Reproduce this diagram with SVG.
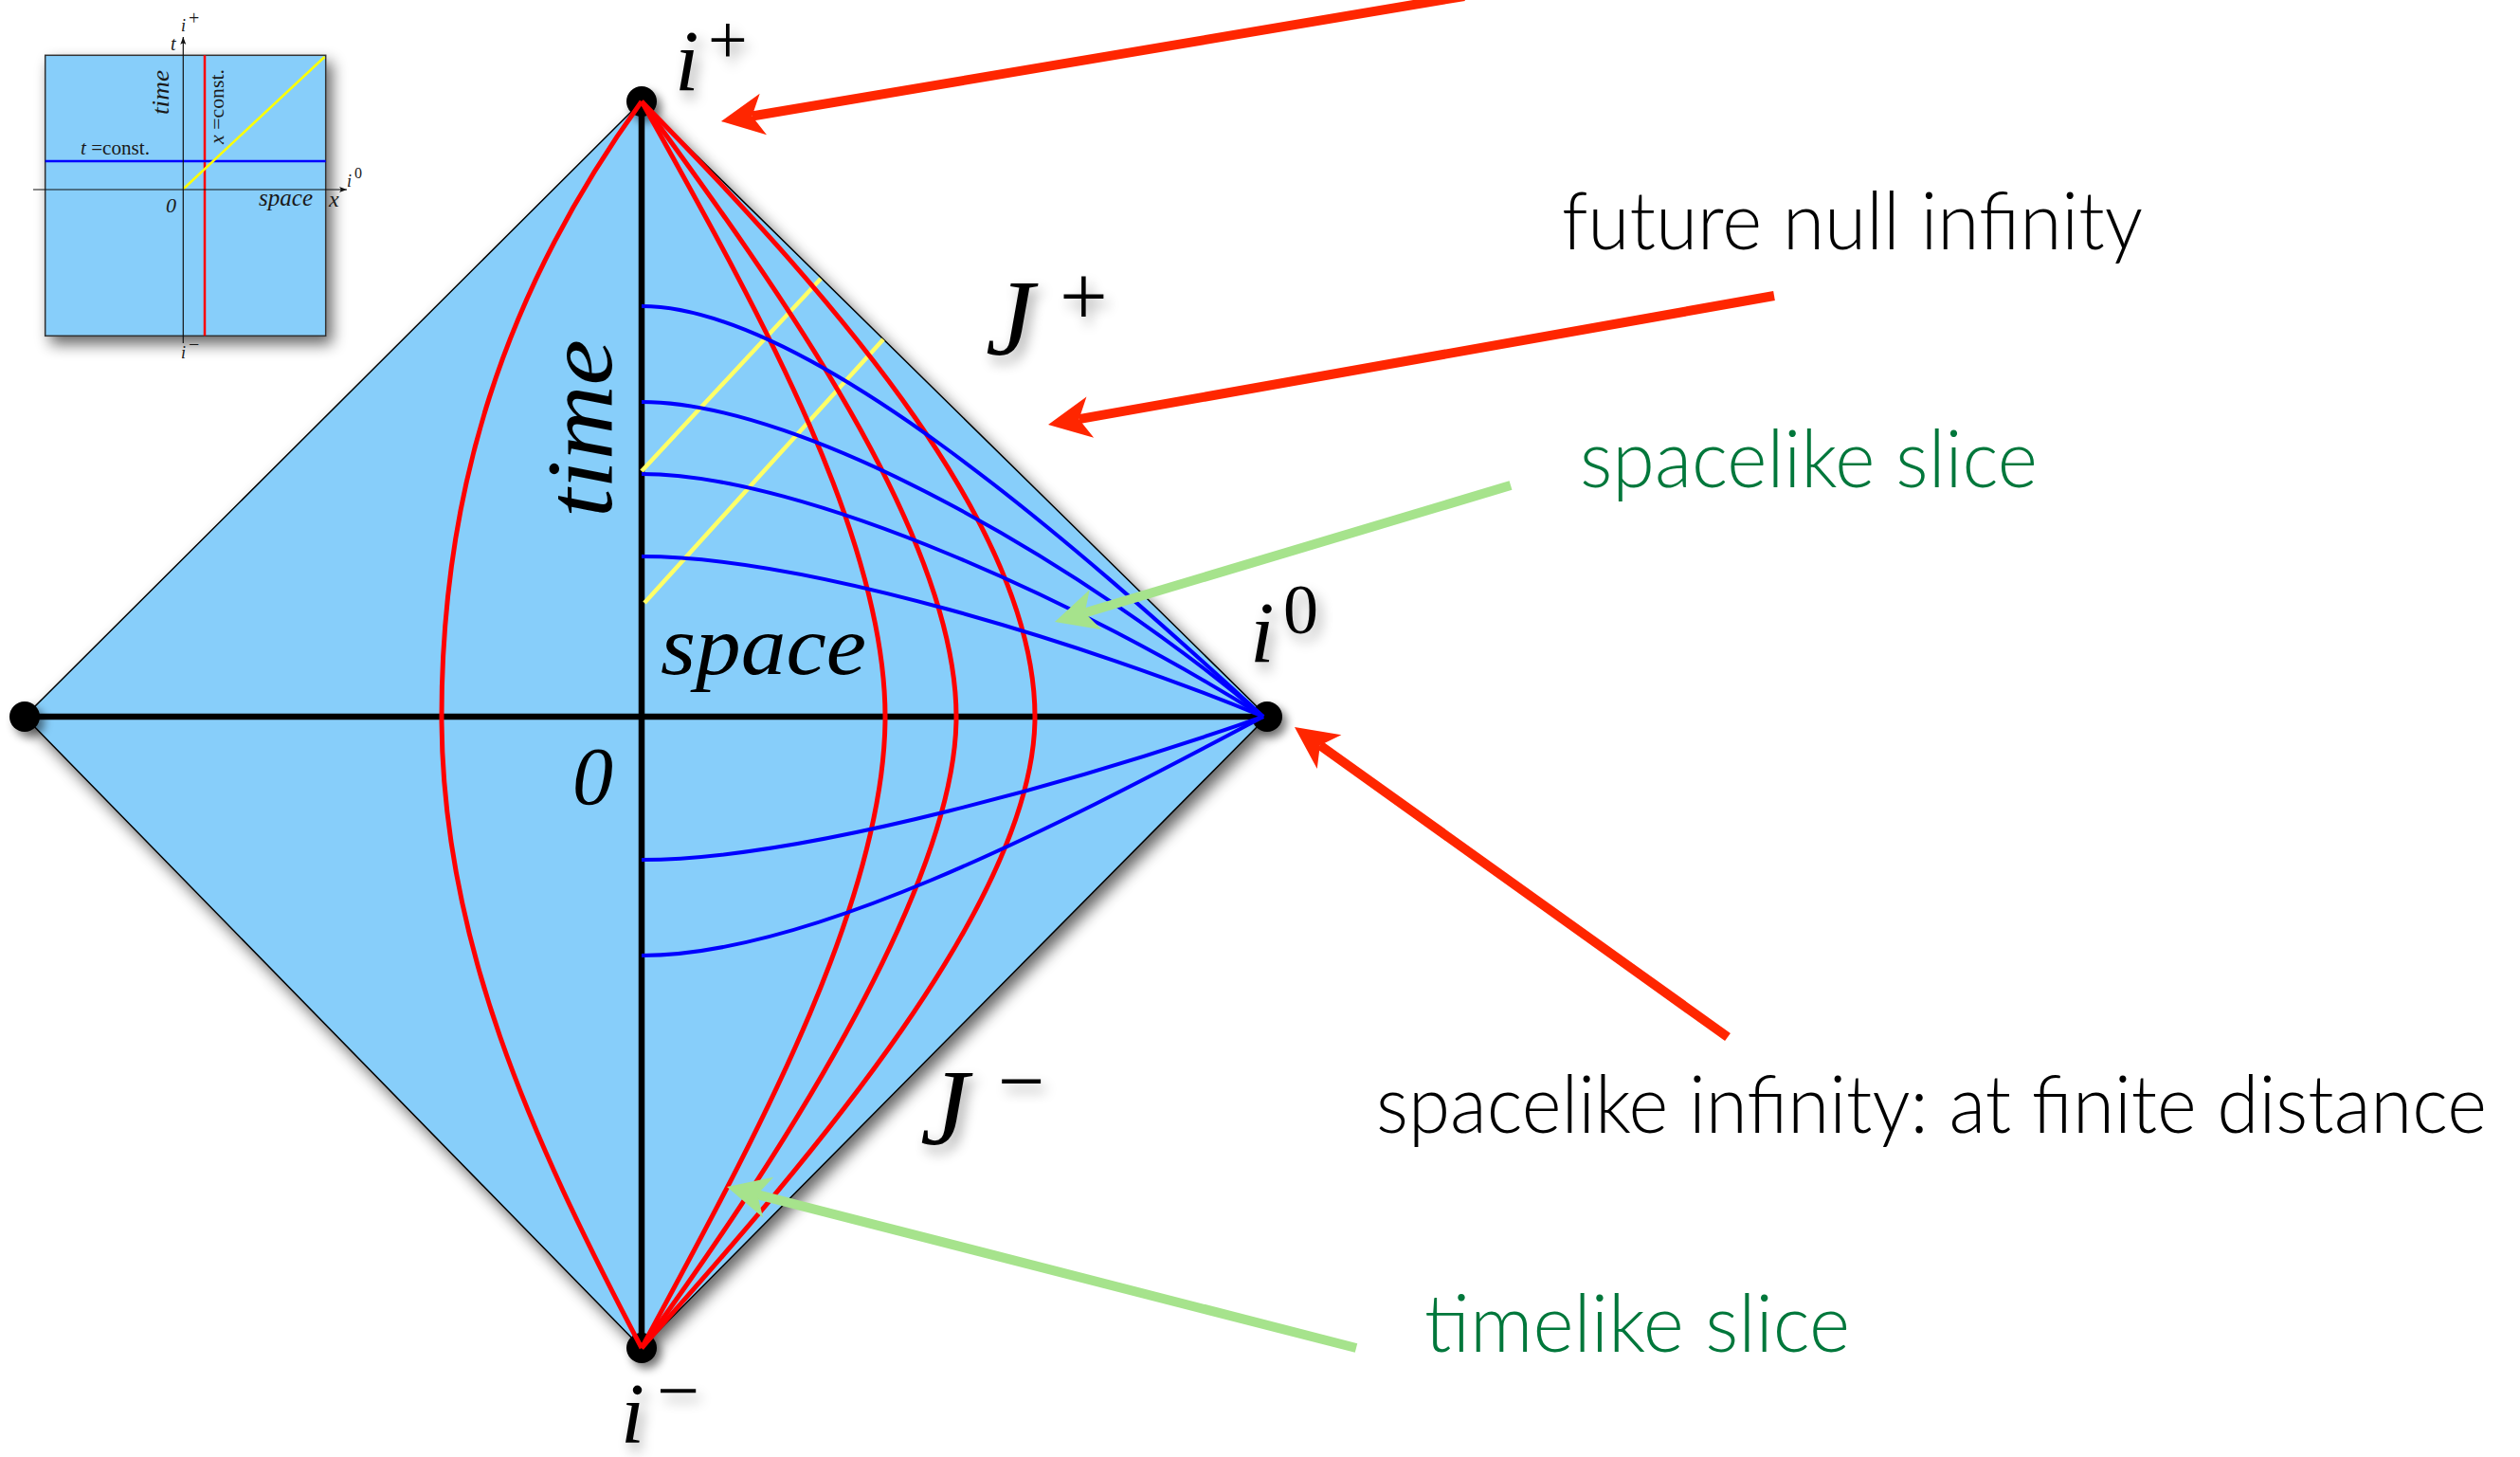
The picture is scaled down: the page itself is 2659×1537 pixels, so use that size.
<svg xmlns="http://www.w3.org/2000/svg" width="2659" height="1537" viewBox="0 0 2659 1537">
<style>
.math{font-family:"Liberation Serif","DejaVu Serif",serif;fill:#000}
.it{font-style:italic}
.lbl{font-family:"Lato","Open Sans","Liberation Sans",sans-serif;font-weight:300;font-size:84px;fill:#000}
.grn{fill:#00773B}
.red{fill:none;stroke:#FF0000;stroke-width:5}
.blu{fill:none;stroke:#0000FF;stroke-width:4}
.yel{fill:none;stroke:#FFFF66;stroke-width:4.5}
.ax{stroke:#000;stroke-width:6.5}
.ra{stroke:#FF2600;stroke-width:10;fill:none}
.ga{stroke:#A6E38C;stroke-width:10;fill:none}
.sm{font-family:"Liberation Serif","DejaVu Serif",serif;fill:#1a1a1a}
</style>
<defs>
<filter id="sh" x="-20%" y="-20%" width="150%" height="150%">
<feGaussianBlur in="SourceAlpha" stdDeviation="8"/>
<feOffset dx="6" dy="8" result="o"/>
<feComponentTransfer><feFuncA type="linear" slope="0.6"/></feComponentTransfer>
<feMerge><feMergeNode/><feMergeNode in="SourceGraphic"/></feMerge>
</filter>
<filter id="ts" x="-60%" y="-60%" width="220%" height="220%">
<feGaussianBlur in="SourceAlpha" stdDeviation="7"/>
<feOffset dx="5" dy="8"/>
<feComponentTransfer><feFuncA type="linear" slope="0.35"/></feComponentTransfer>
<feMerge><feMergeNode/><feMergeNode in="SourceGraphic"/></feMerge>
</filter>
<filter id="ds" x="-100%" y="-100%" width="300%" height="300%">
<feGaussianBlur in="SourceAlpha" stdDeviation="5"/>
<feOffset dx="5" dy="6"/>
<feComponentTransfer><feFuncA type="linear" slope="0.5"/></feComponentTransfer>
<feMerge><feMergeNode/><feMergeNode in="SourceGraphic"/></feMerge>
</filter>
<marker id="mr" markerUnits="strokeWidth" viewBox="-1.3 -2.3 4.7 4.6" refX="0" refY="0" markerWidth="4.7" markerHeight="4.6" orient="auto">
<path d="M3.3,0 L-1.2,-2.2 L0,0 L-1.2,2.2 Z" fill="#FF2600"/>
</marker>
<marker id="mg" markerUnits="strokeWidth" viewBox="-1.3 -2.3 4.7 4.6" refX="0" refY="0" markerWidth="4.7" markerHeight="4.6" orient="auto">
<path d="M3.3,0 L-1.2,-2.2 L0,0 L-1.2,2.2 Z" fill="#A6E38C"/>
</marker>
<marker id="mk" markerUnits="userSpaceOnUse" viewBox="-8 -4 9 8" refX="0" refY="0" markerWidth="9" markerHeight="8" orient="auto">
<path d="M0,0 L-8,-3 Q-5,0 -8,3 Z" fill="#111"/>
</marker>
</defs>
<rect width="2659" height="1537" fill="#fff"/>

<g id="inset">
<rect x="47.7" y="58.3" width="296" height="296" fill="#87CEFA" stroke="#333" stroke-width="1.5" filter="url(#sh)"/>
<line x1="216" y1="58.3" x2="216" y2="354.3" stroke="#FF0000" stroke-width="2.5"/>
<line x1="47.7" y1="170" x2="343.7" y2="170" stroke="#0000FF" stroke-width="2.5"/>
<line x1="193.3" y1="199.5" x2="342.5" y2="60" stroke="#FFFF00" stroke-width="2.5"/>
<line x1="193.3" y1="362" x2="193.3" y2="39" stroke="#111" stroke-width="1.2" marker-end="url(#mk)"/>
<line x1="35" y1="200" x2="366" y2="200" stroke="#111" stroke-width="1.2" marker-end="url(#mk)"/>
<text class="sm it" x="191" y="33" font-size="18">i</text>
<text class="sm" x="199" y="26" font-size="20">+</text>
<text class="sm it" x="180" y="53" font-size="20">t</text>
<text class="sm it" font-size="26" transform="translate(178,121) rotate(-90)" textLength="47" lengthAdjust="spacingAndGlyphs">time</text>
<text class="sm" font-size="21" transform="translate(236,152) rotate(-90)" textLength="79" lengthAdjust="spacingAndGlyphs"><tspan font-style="italic">x</tspan> =const.</text>
<text class="sm" x="85" y="163" font-size="21" textLength="73" lengthAdjust="spacingAndGlyphs"><tspan font-style="italic">t</tspan> =const.</text>
<text class="sm it" x="175" y="224" font-size="22">0</text>
<text class="sm it" x="273" y="217" font-size="25" textLength="57" lengthAdjust="spacingAndGlyphs">space</text>
<text class="sm it" x="347" y="218" font-size="24">x</text>
<text class="sm it" x="366" y="197" font-size="18">i</text>
<text class="sm" x="374" y="188" font-size="16">0</text>
<text class="sm it" x="191" y="378" font-size="18">i</text>
<text class="sm" x="199" y="370" font-size="20">−</text>
</g>

<g id="diagram">
<polygon id="diamond" points="677,107 1337,756 677,1422 26,756" fill="#87CEFA" stroke="#000" stroke-width="1.5" filter="url(#sh)"/>
<g id="dots" filter="url(#ds)">
<circle id="dot-iplus" cx="677" cy="107" r="16" fill="#000"/>
<circle id="dot-izero" cx="1337" cy="756" r="16" fill="#000"/>
<circle id="dot-iminus" cx="677" cy="1422" r="16" fill="#000"/>
<circle id="dot-left" cx="26" cy="756" r="16" fill="#000"/>
</g>
<g id="axes">
<line class="ax" x1="26" y1="756" x2="1334" y2="756"/>
<line class="ax" x1="677" y1="107" x2="677" y2="1422"/>
</g>
<g id="null-rays">
<line class="yel" x1="677" y1="497" x2="866" y2="294"/>
<line class="yel" x1="680" y1="636" x2="932" y2="358"/>
</g>
<g id="timelike-slices">
<path class="red" d="M677,107 C530,310 466,520 466,756 C466,990 560,1200 677,1422"/>
<path class="red" d="M677,107 C790,310 934,560 934,756 C934,960 780,1230 677,1422"/>
<path class="red" d="M677,107 C810,290 1009,560 1009,756 C1009,940 808,1242 677,1422"/>
<path class="red" d="M677,107 C893,327 1092,560 1092,756 C1092,950 855,1222 677,1422"/>
</g>
<g id="spacelike-slices">
<path class="blu" d="M677,323 C850,323 1130,570 1333,756"/>
<path class="blu" d="M677,424 C850,424 1150,600 1333,756"/>
<path class="blu" d="M677,500 C850,500 1150,640 1333,756"/>
<path class="blu" d="M677,587 C850,587 1150,680 1333,756"/>
<path class="blu" d="M677,907 C850,907 1150,820 1333,756"/>
<path class="blu" d="M677,1008 C850,1008 1100,880 1333,756"/>
</g>
<text id="t-time" class="math it" font-size="100" transform="translate(645,546) rotate(-90)" textLength="188" lengthAdjust="spacingAndGlyphs">time</text>
<text id="t-space" class="math it" x="697" y="711" font-size="88" textLength="217" lengthAdjust="spacingAndGlyphs">space</text>
<text id="t-zero" class="math it" x="604" y="848" font-size="86">0</text>
</g>

<g id="label-iplus" filter="url(#ts)">
<text class="math it" x="712" y="95" font-size="92">i</text>
<text class="math" x="747" y="67" font-size="74">+</text>
</g>
<g id="label-izero" filter="url(#ts)">
<text class="math it" x="1319" y="698" font-size="92">i</text>
<text class="math" x="1354" y="668" font-size="74">0</text>
</g>
<g id="label-iminus" filter="url(#ts)">
<text class="math it" x="655" y="1522" font-size="90">i</text>
<text class="math" x="693" y="1494" font-size="80">−</text>
</g>
<g id="label-scri-plus" filter="url(#ts)">
<text class="math it" x="1040" y="374" font-size="115">J</text>
<text class="math" x="1118" y="343" font-size="90">+</text>
</g>
<g id="label-scri-minus" filter="url(#ts)">
<text class="math it" x="971" y="1207" font-size="115">J</text>
<text class="math" x="1053" y="1170" font-size="88">−</text>
</g>

<g id="connectors">
<line class="ra" x1="1545" y1="-4" x2="793.5" y2="122.5" marker-end="url(#mr)"/>
<line class="ra" x1="1872" y1="312" x2="1138.5" y2="442.2" marker-end="url(#mr)"/>
<line class="ga" x1="1594" y1="512" x2="1144.6" y2="646.5" marker-end="url(#mg)"/>
<line class="ra" x1="1823" y1="1094" x2="1392.8" y2="786.2" marker-end="url(#mr)"/>
<line class="ga" x1="1431" y1="1422" x2="799" y2="1260.2" marker-end="url(#mg)"/>
</g>

<g id="text-labels">
<text id="l-fni" class="lbl" x="1648" y="263" textLength="613" lengthAdjust="spacingAndGlyphs">future null infinity</text>
<text id="l-ss" class="lbl grn" x="1667" y="514" textLength="483" lengthAdjust="spacingAndGlyphs">spacelike slice</text>
<text id="l-si" class="lbl" x="1452" y="1195" font-size="82" textLength="1172" lengthAdjust="spacingAndGlyphs">spacelike infinity: at finite distance</text>
<text id="l-ts" class="lbl grn" x="1503" y="1426" font-size="86" textLength="449" lengthAdjust="spacingAndGlyphs">timelike slice</text>
</g>
</svg>
